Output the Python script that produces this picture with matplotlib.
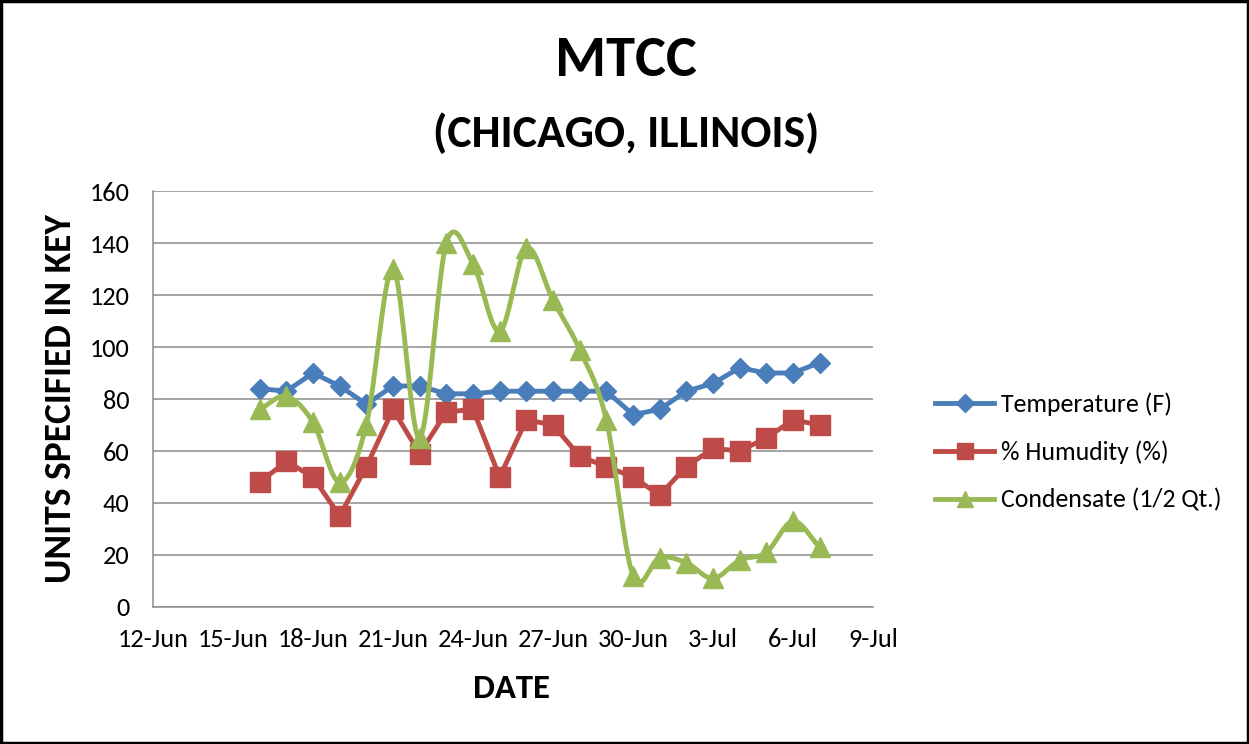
import numpy as np
import matplotlib
matplotlib.use("Agg")
import matplotlib.pyplot as plt
import matplotlib.dates as mdates
from matplotlib.lines import Line2D
import datetime as dt

# ---- data ----
start_date = dt.date(2010, 6, 16)
n_days = 22
dates = [start_date + dt.timedelta(days=i) for i in range(n_days)]
temperature = [84, 83, 90, 85, 78, 85, 85, 82, 82, 83, 83, 83, 83, 83, 74, 76, 83, 86, 92, 90, 90, 94]
humidity = [48, 56, 50, 35, 54, 76, 59, 75, 76, 50, 72, 70, 58, 54, 50, 43, 54, 61, 60, 65, 72, 70]
condensate = [76, 81, 71, 48, 70, 130, 65, 140, 132, 106, 138, 118, 99, 72, 12, 19, 17, 11, 18, 21, 33, 23]
series_names = ["Temperature (F)", "% Humudity (%)", "Condensate (1/2 Qt.)"]
yticks = [0, 20, 40, 60, 80, 100, 120, 140, 160]
x_start = dt.date(2010, 6, 12)
x_end = dt.date(2010, 7, 9)
xtick_dates = [x_start + dt.timedelta(days=3 * i) for i in range(10)]

C_BLUE = "#4a7ebb"
C_RED = "#be4b48"
C_GREEN = "#98b954"
FONT = ["Carlito", "DejaVu Sans"]

def catmull_rom(x, y, n=20):
    x = np.asarray(x, float); y = np.asarray(y, float)
    px = np.concatenate([[2 * x[0] - x[1]], x, [2 * x[-1] - x[-2]]])
    py = np.concatenate([[2 * y[0] - y[1]], y, [2 * y[-1] - y[-2]]])
    outx, outy = [], []
    t = np.linspace(0, 1, n, endpoint=False)
    for i in range(1, len(px) - 2):
        for P, out in ((px, outx), (py, outy)):
            p0, p1, p2, p3 = P[i - 1], P[i], P[i + 1], P[i + 2]
            v = 0.5 * ((2 * p1) + (-p0 + p2) * t + (2 * p0 - 5 * p1 + 4 * p2 - p3) * t ** 2
                       + (-p0 + 3 * p1 - 3 * p2 + p3) * t ** 3)
            out.extend(v)
    outx.append(x[-1]); outy.append(y[-1])
    return np.array(outx), np.array(outy)

plt.rcParams['font.family'] = FONT

fig = plt.figure(figsize=(12.49, 7.44), dpi=100)
ax = fig.add_axes([153 / 1249, 1 - 607 / 744, 720 / 1249, 416 / 744])

xnum = mdates.date2num(dates)
ax.plot(xnum, temperature, color=C_BLUE, lw=3.5, marker="D", ms=10, zorder=3)
ax.plot(xnum, humidity, color=C_RED, lw=3.5, marker="s", ms=14, zorder=3)
sx, sy = catmull_rom(xnum, condensate)
ax.plot(sx, sy, color=C_GREEN, lw=3.5, zorder=4)
ax.plot(xnum, condensate, color=C_GREEN, lw=0, marker="^", ms=14, zorder=4)

ax.set_xlim(mdates.date2num(x_start), mdates.date2num(x_end))
ax.set_ylim(0, 160)
ax.set_yticks(yticks)
ax.set_xticks(mdates.date2num(xtick_dates))
ax.xaxis.set_major_formatter(mdates.DateFormatter("%-d-%b"))
ax.grid(axis="y", color="#8c8c8c", lw=1.1)
ax.set_axisbelow(True)
for s in ["top", "right"]:
    ax.spines[s].set_visible(False)
for s in ["left", "bottom"]:
    ax.spines[s].set_color("#8c8c8c")
    ax.spines[s].set_linewidth(1.1)
ax.tick_params(axis="both", length=0, labelsize=19, colors="black")
ax.tick_params(axis="x", pad=15)
ax.tick_params(axis="y", pad=17)

fig.text(626 / 1249, 1 - 60 / 744, "MTCC", ha="center", va="center",
         fontsize=42, fontweight="bold")
fig.text(626 / 1249, 1 - 133 / 744, "(CHICAGO, ILLINOIS)", ha="center", va="center",
         fontsize=33, fontweight="bold")
fig.text(512 / 1249, 1 - 689 / 744, "DATE", ha="center", va="center",
         fontsize=25, fontweight="bold")
fig.text(61 / 1249, 1 - 399 / 744, "UNITS SPECIFIED IN KEY", ha="center", va="center",
         rotation=90, fontsize=27, fontweight="bold")

handles = [
    Line2D([], [], color=C_BLUE, lw=3.5, marker="D", ms=9),
    Line2D([], [], color=C_RED, lw=3.5, marker="s", ms=12),
    Line2D([], [], color=C_GREEN, lw=3.5, marker="^", ms=12),
]
leg = fig.legend(handles, series_names, loc="center left",
                 bbox_to_anchor=(935 / 1249, 1 - 452 / 744), frameon=False,
                 borderpad=0, borderaxespad=0,
                 handlelength=2.3, handletextpad=0.25, labelspacing=0.95,
                 prop={"family": FONT, "size": 18.5})

border = plt.Rectangle((0.001, 0.002), 0.998, 0.996, transform=fig.transFigure,
                       fill=False, edgecolor="black", lw=2.5)
fig.patches.append(border)

fig.savefig("out.png", dpi=100)
